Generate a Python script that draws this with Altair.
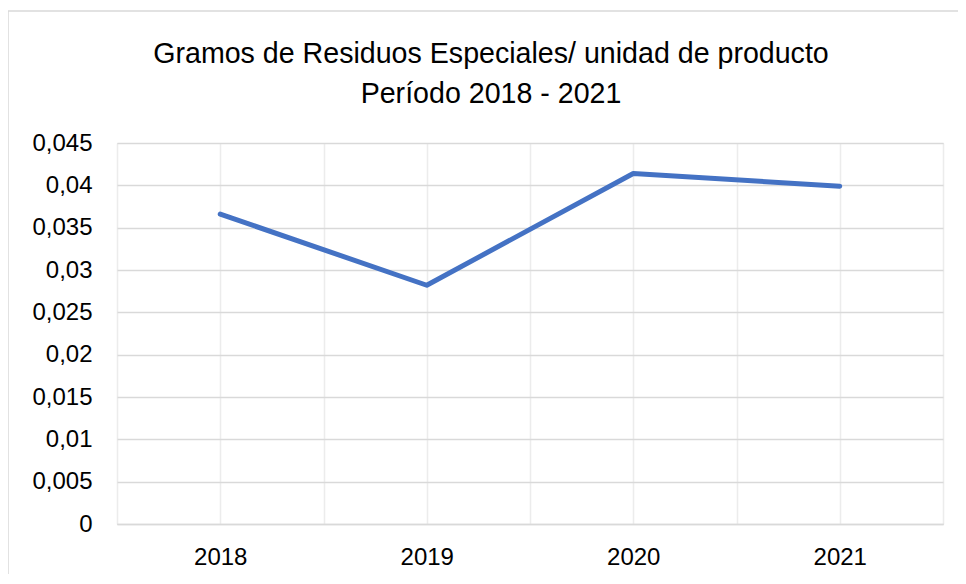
import altair as alt
import pandas as pd

years = [2018, 2019, 2020, 2021]
values = [0.0366, 0.0282, 0.0414, 0.0399]
y_ticks = [0, 0.005, 0.01, 0.015, 0.02, 0.025, 0.03, 0.035, 0.04, 0.045]
x_ticks = [2017.5, 2018, 2018.5, 2019, 2019.5, 2020, 2020.5, 2021, 2021.5]
title_lines = ["Gramos de Residuos Especiales/ unidad de producto", "Período 2018 - 2021"]

df = pd.DataFrame({"year": years, "value": values})

FONT = "Liberation Sans"

frame = alt.Chart(pd.DataFrame({"k": [0]})).mark_rect(
    fill=None, stroke="#d9d9d9", strokeWidth=1.5
).encode(
    x=alt.value(-109), x2=alt.value(900), y=alt.value(-132), y2=alt.value(500)
)

title = alt.Chart(pd.DataFrame({"k": [0]})).mark_text(
    font=FONT, fontSize=28.6, color="#000000", align="center",
    baseline="alphabetic", lineHeight=40
).encode(
    x=alt.value(374), y=alt.value(-80), text=alt.value(title_lines)
)

line = alt.Chart(df).mark_line(
    color="#4472C4", strokeWidth=5, strokeCap="round", strokeJoin="round"
).encode(
    x=alt.X("year:Q",
            scale=alt.Scale(domain=[2017.5, 2021.5], nice=False, zero=False),
            axis=alt.Axis(values=x_ticks, title=None, ticks=False, grid=True,
                          gridColor="#ececec", gridWidth=1.5,
                          domain=True, domainColor="#d9d9d9", domainWidth=1.5,
                          labelExpr="datum.value % 1 == 0 ? format(datum.value, 'd') : ''",
                          labelFont=FONT, labelFontSize=24, labelColor="#000000",
                          labelPadding=21, labelFlush=False, labelOverlap=False)),
    y=alt.Y("value:Q",
            scale=alt.Scale(domain=[0, 0.045], nice=False),
            axis=alt.Axis(values=y_ticks, title=None, ticks=False, domain=False,
                          grid=True, gridColor="#d9d9d9", gridWidth=1.5,
                          format=".3~f",
                          labelExpr="replace(datum.label, '.', ',')",
                          labelFont=FONT, labelFontSize=24, labelColor="#000000",
                          labelPadding=25, labelOverlap=False))
)

chart = alt.layer(frame, title, line).properties(
    width=826, height=381,
    autosize=alt.AutoSizeParams(type="none"),
    padding={"left": 109, "top": 135, "right": 15, "bottom": 50},
).configure_view(stroke=None).configure(background="white")

chart.save("out.html", embed_options={"renderer": "svg", "actions": False})
